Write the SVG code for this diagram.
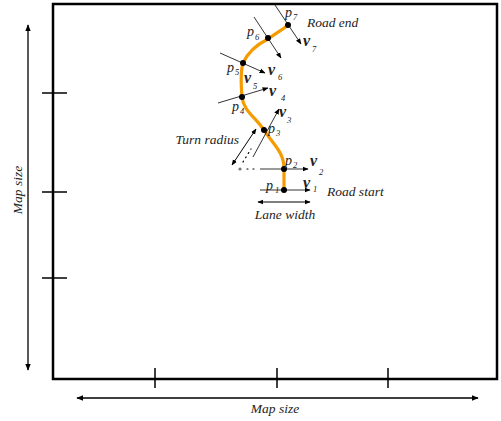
<svg xmlns="http://www.w3.org/2000/svg" width="501" height="421" viewBox="0 0 501 421">
<defs>
<marker id="ah" viewBox="0 0 10 10" refX="9" refY="5" markerWidth="7" markerHeight="7" orient="auto-start-reverse" markerUnits="userSpaceOnUse">
<path d="M0,1 L10,5 L0,9 Z" fill="#000"/>
</marker>
<marker id="ahs" viewBox="0 0 10 10" refX="9" refY="5" markerWidth="6" markerHeight="6" orient="auto-start-reverse" markerUnits="userSpaceOnUse">
<path d="M0,1 L10,5 L0,9 Z" fill="#000"/>
</marker>
</defs>
<style>
text{font-family:"Liberation Serif","Times New Roman",serif;font-style:italic;fill:#222}
.lbl{font-size:13.5px}
.p{font-size:14px}
.v{font-size:16px;font-weight:bold}
.s{font-size:8.5px}
.vec{stroke:#000;stroke-width:0.8;fill:none;marker-end:url(#ahs)}
.dbl{stroke:#000;stroke-width:1;fill:none;marker-start:url(#ahs);marker-end:url(#ahs)}
.axis{stroke:#000;stroke-width:1.3;fill:none;marker-start:url(#ah);marker-end:url(#ah)}
.tick{stroke:#000;stroke-width:1.5}
</style>
<g id="map">
<rect x="53" y="4" width="444" height="375" fill="#fff" stroke="#000" stroke-width="2.5"/>
<line class="tick" x1="42" y1="93" x2="67" y2="93"/>
<line class="tick" x1="42" y1="192" x2="67" y2="192"/>
<line class="tick" x1="42" y1="278" x2="67" y2="278"/>
<line class="tick" x1="155" y1="368" x2="155" y2="388"/>
<line class="tick" x1="277" y1="368" x2="277" y2="388"/>
<line class="tick" x1="388" y1="368" x2="388" y2="388"/>
</g>
<g id="axes">
<line class="axis" x1="28" y1="25" x2="28" y2="370"/>
<text class="lbl" transform="translate(22,190) rotate(-90)" text-anchor="middle">Map size</text>
<line class="axis" x1="77" y1="398" x2="478" y2="398"/>
<text class="lbl" x="275" y="413" text-anchor="middle">Map size</text>
</g>
<g id="road">
<path d="M284,191 L284,168 C284,152 272,143 264,130 C256,118 243,110 242,97 C241,85 240,73 243,63 C248,52 258,44 268,39 C275,34 282,30 288,25" fill="none" stroke="#F59B00" stroke-width="3.2" stroke-linecap="round"/>
</g>
<g id="connectors">
<line class="vec" x1="275" y1="5" x2="301" y2="44"/>
<line class="vec" x1="254" y1="17" x2="281" y2="58"/>
<line class="vec" x1="220" y1="53" x2="265" y2="73"/>
<line class="vec" x1="218" y1="103" x2="268" y2="88"/>
<line class="vec" x1="253" y1="157" x2="279" y2="109"/>
<line class="vec" x1="260" y1="169" x2="308" y2="169"/>
<line class="vec" x1="260" y1="190" x2="310" y2="190"/>
<line class="dbl" x1="232" y1="165" x2="256" y2="129"/>
<line class="dbl" x1="258" y1="202" x2="310" y2="202"/>
<line x1="243" y1="162" x2="251" y2="149" stroke="#000" stroke-width="1.2" stroke-dasharray="1,4" stroke-linecap="round"/>
<line x1="247" y1="169" x2="258" y2="169" stroke="#000" stroke-width="1.2" stroke-dasharray="1,5" stroke-linecap="round"/>
<circle cx="240" cy="169" r="1.6" fill="#777"/>
</g>
<g id="p1"><circle cx="284" cy="190" r="3" fill="#000"/><text class="p" x="266" y="190">p</text><text class="s" x="275" y="193">1</text></g>
<g id="p2"><circle cx="284" cy="169" r="3" fill="#000"/><text class="p" x="285" y="165">p</text><text class="s" x="293" y="168">2</text></g>
<g id="p3"><circle cx="264" cy="130" r="3" fill="#000"/><text class="p" x="268" y="133">p</text><text class="s" x="276" y="136">3</text></g>
<g id="p4"><circle cx="242" cy="97" r="3" fill="#000"/><text class="p" x="232" y="111">p</text><text class="s" x="240" y="114">4</text></g>
<g id="p5"><circle cx="243" cy="63" r="3" fill="#000"/><text class="p" x="227" y="72">p</text><text class="s" x="235" y="75">5</text></g>
<g id="p6"><circle cx="268" cy="38" r="3" fill="#000"/><text class="p" x="247" y="36">p</text><text class="s" x="255" y="40">6</text></g>
<g id="p7"><circle cx="288" cy="25" r="3" fill="#000"/><text class="p" x="285" y="17">p</text><text class="s" x="293" y="20">7</text></g>
<g id="labels">
<text class="v" x="303" y="188">v</text><text class="s" x="313" y="192">1</text>
<text class="v" x="310" y="166">v</text><text class="s" x="319" y="175">2</text>
<text class="v" x="279" y="117">v</text><text class="s" x="287" y="123">3</text>
<text class="v" x="269" y="96">v</text><text class="s" x="281" y="101">4</text>
<text class="v" x="244" y="83">v</text><text class="s" x="253" y="89">5</text>
<text class="v" x="268" y="75">v</text><text class="s" x="278" y="80">6</text>
<text class="v" x="303" y="46">v</text><text class="s" x="312" y="52">7</text>
<text class="lbl" x="307" y="27">Road end</text>
<text class="lbl" x="327" y="196">Road start</text>
<text class="lbl" x="285" y="219" text-anchor="middle">Lane width</text>
<text class="lbl" x="239" y="144" text-anchor="end">Turn radius</text>
</g>
</svg>
